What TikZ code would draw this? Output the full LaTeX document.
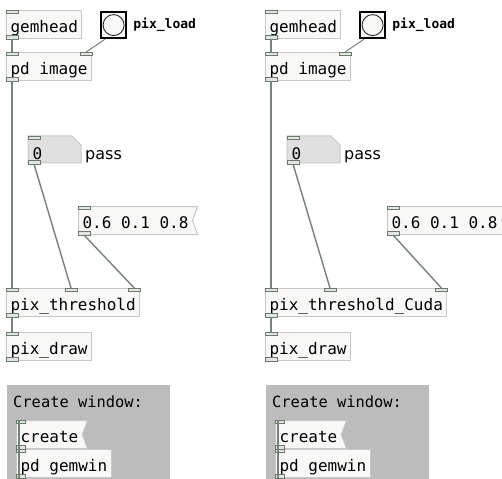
\documentclass[tikz,border=0pt]{standalone}
\usepackage{fontspec}
\usetikzlibrary{positioning,shapes.symbols}

\newfontfamily\pdfont{DejaVu Sans Mono}
\newfontfamily\pdsans{DejaVu Sans}

\definecolor{boxfill}{HTML}{F8F8F6}
\definecolor{boxline}{HTML}{C8C8C8}
\definecolor{numfill}{HTML}{E0E0E0}
\definecolor{portfill}{HTML}{E2E6E2}
\definecolor{portline}{HTML}{6A7A6A}
\definecolor{cordcol}{HTML}{74847A}
\definecolor{canvasgray}{HTML}{BCBCBC}

\tikzset{
  obj/.style={draw=boxline,fill=boxfill,line width=1pt,anchor=north west,
    minimum height=28pt,inner xsep=4pt,inner ysep=0pt,
    text height=16pt,text depth=0pt,font=\pdfont\fontsize{16}{16}\selectfont},
  msg/.style={obj,shape=signal,signal to=nowhere,signal from=east,signal pointer angle=140},
  numbox/.style={obj,draw=none,fill=none,minimum height=27pt,text height=19pt,text width=45pt,align=left},
  numshape/.style={draw=boxline,fill=numfill,line width=1pt},
  bang/.style={draw=black,line width=2.2pt,fill=boxfill,anchor=north west,
    minimum width=25pt,minimum height=26pt,inner sep=0pt},
  port/.style={draw=portline,fill=portfill,line width=0.8pt,
    minimum width=12pt,minimum height=3.5pt,inner sep=0pt,outer sep=0pt},
  inlet/.style={port,anchor=north west},
  inlet r/.style={port,anchor=north east},
  outlet/.style={port,anchor=south west},
  cord/.style={draw=cordcol,line width=1.4pt},
  ctl/.style={draw=cordcol,line width=1pt},
}

\begin{document}
\begin{tikzpicture}[x=1pt,y=-1pt]
\useasboundingbox (0,0) rectangle (502,478);
\clip (0,0) rectangle (502,478);
\fill[white] (0,0) rectangle (502,478);

% one patch per panel: prefix / shift / threshold object / message box x
\foreach \p/\dx/\thr/\mx in {L/0/pix\_threshold/78, R/259/pix\_threshold\_Cuda/128}{
\begin{scope}[xshift=\dx pt]
  %window canvas
  \fill[canvasgray] (7,385) rectangle (170,480);
  \node[anchor=base west,inner sep=0pt,font=\pdfont\fontsize{15.4}{16}\selectfont] (\p-note) at (13,407) {Create window:};

  %number box with its cut corner
  \filldraw[numshape] (28,136) -- ++(44,0) -- ++(9,9) -- ++(0,18) -- ++(-53,0) -- cycle;

  %objects
  \node[obj] (\p-gem) at (6,10) {gemhead};
  \node[bang] (\p-load) at (100,11) {};
  \node[circle,draw=black!85,line width=0.9pt,minimum size=21pt,inner sep=0pt] (\p-loadc) at (\p-load.center) {};
  \node[right=6pt of \p-load,inner sep=0pt,font=\pdfont\bfseries\fontsize{13}{13}\selectfont] (\p-loadlbl) {pix\_load};
  \node[obj] (\p-img) at (6,52) {pd image};
  \node[numbox] (\p-pass) at (28,136) {0};
  \node[anchor=base west,inner sep=0pt,font=\pdsans\fontsize{16}{16}\selectfont] (\p-passlbl) at ([xshift=3pt]\p-pass.base east) {pass};
  \node[msg] (\p-msg) at (\mx,206) {0.6 0.1 0.8};
  \node[obj] (\p-thr) at (6,288) {\thr};
  \node[obj] (\p-draw) at (6,332) {pix\_draw};
  \node[msg] (\p-create) at (16,420) {create};
  \node[obj] (\p-gemwin) at (16,449) {pd gemwin};

  %inlets and outlets
  \node[inlet] (\p-gem-i) at (\p-gem.north west) {};
  \node[outlet] (\p-gem-o) at (\p-gem.south west) {};
  \node[inlet] (\p-img-i) at (\p-img.north west) {};
  \node[inlet r] (\p-img-ir) at (\p-img.north east) {};
  \node[outlet] (\p-img-o) at (\p-img.south west) {};
  \node[inlet] (\p-pass-i) at (\p-pass.north west) {};
  \node[outlet] (\p-pass-o) at (\p-pass.south west) {};
  \node[inlet] (\p-msg-i) at (\p-msg.north west) {};
  \node[outlet] (\p-msg-o) at (\p-msg.south west) {};
  \node[inlet] (\p-thr-i) at (\p-thr.north west) {};
  \node[inlet] (\p-thr-im) at ([xshift=59pt]\p-thr.north west) {};
  \node[inlet r] (\p-thr-ir) at (\p-thr.north east) {};
  \node[outlet] (\p-thr-o) at (\p-thr.south west) {};
  \node[inlet] (\p-draw-i) at (\p-draw.north west) {};
  \node[outlet] (\p-draw-o) at (\p-draw.south west) {};
  \node[inlet,minimum width=9pt] (\p-create-i) at (\p-create.north west) {};
  \node[outlet,minimum width=9pt] (\p-create-o) at (\p-create.south west) {};
  \node[inlet,minimum width=9pt] (\p-gemwin-i) at (\p-gemwin.north west) {};
  \node[outlet,minimum width=9pt] (\p-gemwin-o) at (\p-gemwin.south west) {};

  %cords
  \draw[cord] (\p-gem-o) -- (\p-gem-o |- \p-img-i.north);
  \draw[ctl] ([xshift=5pt]\p-load.south west) -- (\p-img-ir.north);
  \draw[cord] (\p-img-o) -- (\p-img-o |- \p-thr-i.north);
  \draw[cord] (\p-pass-o.south) -- (\p-thr-im.north);
  \draw[cord] (\p-msg-o.south) -- (\p-thr-ir.north);
  \draw[cord] (\p-thr-o) -- (\p-thr-o |- \p-draw-i.north);
  \draw[cord] ([xshift=3pt]\p-create-i.north west) -- ([xshift=3pt]\p-gemwin-o.south west);
\end{scope}
}
\end{tikzpicture}
\end{document}
